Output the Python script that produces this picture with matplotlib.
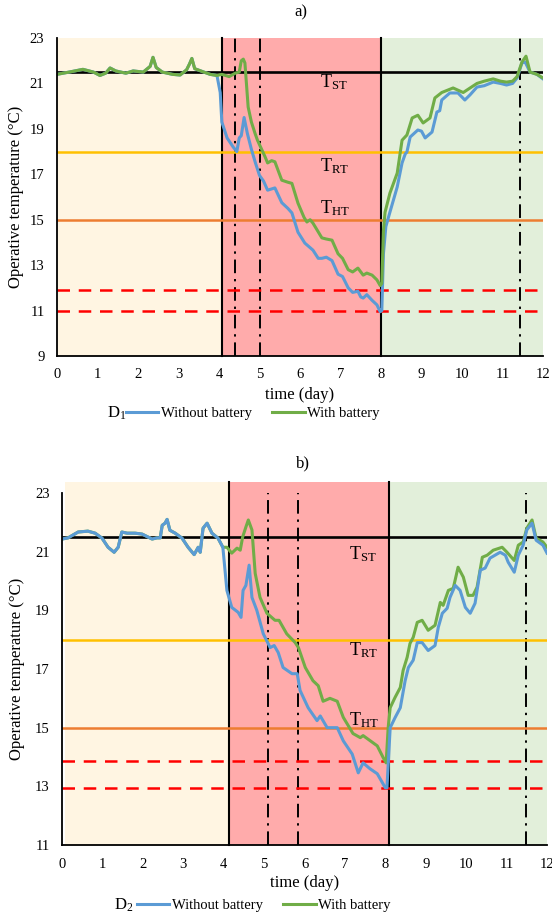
import matplotlib
matplotlib.use("Agg")
import matplotlib.pyplot as plt

plt.rcParams['font.family'] = ['Liberation Serif', 'DejaVu Serif']
plt.rcParams['mathtext.fontset'] = 'stix'

# ---- thresholds (degC) ----
T_ST = 21.5
T_RT = 18.0
T_HT = 15.0
limits_a = [11.9, 11.0]
limits_b = [13.85, 12.95]

# ---- panel a) D1 ----
a_pre_day = [0, 0.3, 0.64, 0.9, 1.06, 1.2, 1.31, 1.45, 1.7, 1.88, 2.13, 2.3, 2.37, 2.45,
             2.6, 2.85, 3.04, 3.2, 3.27, 3.33, 3.4, 3.55, 3.78, 3.95]
a_pre_temp = [21.4, 21.5, 21.62, 21.5, 21.35, 21.45, 21.68, 21.55, 21.45, 21.55, 21.5, 21.75,
              22.15, 21.7, 21.5, 21.4, 21.37, 21.6, 21.85, 22.1, 21.65, 21.55, 21.4, 21.35]

a_nobat_day = [4.03, 4.07, 4.2, 4.35, 4.44, 4.5, 4.55, 4.62, 4.7, 4.8, 4.9, 5.0, 5.1, 5.2,
               5.38, 5.55, 5.7, 5.8, 5.95, 6.12, 6.32, 6.45, 6.54, 6.65, 6.79, 6.94, 7.05,
               7.19, 7.3, 7.43, 7.5, 7.56, 7.65, 7.78, 7.9, 7.98, 8.02, 8.06, 8.12, 8.22,
               8.4, 8.52, 8.6, 8.64, 8.72, 8.91, 9.0, 9.09, 9.26, 9.38, 9.45, 9.5, 9.7, 9.9,
               10.07, 10.2, 10.37, 10.55, 10.77, 10.95, 11.1, 11.25, 11.36, 11.48, 11.56,
               11.68, 11.85, 12.0]
a_nobat_temp = [20.6, 19.3, 18.6, 18.2, 18.0, 18.6, 18.7, 19.5, 18.8, 18.1, 17.5, 16.95,
                16.7, 16.3, 16.4, 15.75, 15.5, 15.3, 14.45, 13.97, 13.66, 13.3, 13.3, 13.35,
                13.2, 12.6, 12.5, 12.0, 11.8, 11.85, 11.6, 11.55, 11.7, 11.45, 11.25, 10.95,
                11.0, 13.5, 14.7, 15.33, 16.44, 17.5, 17.9, 17.98, 18.64, 18.95, 18.9, 18.6,
                18.86, 19.74, 19.8, 20.27, 20.58, 20.58, 20.27, 20.5, 20.84, 20.9, 21.06,
                21.0, 20.93, 21.0, 21.24, 21.9, 21.94, 21.5, 21.4, 21.2]

a_bat_day = [4.07, 4.25, 4.4, 4.5, 4.55, 4.6, 4.64, 4.72, 4.8, 4.89, 4.95, 5.06, 5.13, 5.2,
             5.3, 5.38, 5.55, 5.7, 5.8, 5.95, 6.1, 6.17, 6.25, 6.32, 6.54, 6.65, 6.79, 6.94,
             7.05, 7.19, 7.3, 7.43, 7.56, 7.65, 7.78, 7.9, 7.98, 8.02, 8.06, 8.1, 8.22, 8.4,
             8.52, 8.64, 8.77, 8.91, 9.04, 9.21, 9.33, 9.5, 9.78, 10.03, 10.2, 10.37, 10.55,
             10.77, 10.95, 11.1, 11.25, 11.36, 11.48, 11.58, 11.68, 11.85, 12.0]
a_bat_temp = [21.4, 21.3, 21.45, 21.5, 22.0, 22.07, 21.9, 19.96, 19.3, 18.8, 18.5, 18.07,
              17.8, 17.5, 17.6, 17.55, 16.74, 16.65, 16.6, 15.73, 15.1, 14.9, 15.0, 14.85,
              14.2, 14.15, 14.1, 13.5, 13.3, 12.8, 12.7, 12.87, 12.56, 12.65, 12.56, 12.35,
              12.1, 12.2, 14.5, 15.33, 16.17, 17.05, 18.5, 18.73, 19.48, 19.6, 19.26, 19.48,
              20.36, 20.6, 20.8, 20.6, 20.8, 21.0, 21.1, 21.2, 21.1, 21.06, 21.1, 21.3,
              21.94, 22.2, 21.5, 21.4, 21.24]

# ---- panel b) D2 ----
b_pre_day = [0, 0.15, 0.4, 0.64, 0.82, 0.99, 1.14, 1.29, 1.39, 1.48, 1.61, 1.81, 1.98, 2.23,
             2.35, 2.43, 2.48, 2.55, 2.6, 2.67, 2.8, 2.97, 3.12, 3.27, 3.37, 3.42, 3.49,
             3.59, 3.71, 3.86, 3.98]
b_pre_temp = [21.43, 21.47, 21.67, 21.7, 21.63, 21.46, 21.15, 20.98, 21.15, 21.67, 21.63,
              21.63, 21.6, 21.43, 21.47, 21.47, 21.9, 21.97, 22.1, 21.73, 21.63, 21.46,
              21.15, 20.9, 21.15, 20.98, 21.8, 21.97, 21.63, 21.46, 21.15]

b_nobat_day = [4.08, 4.2, 4.36, 4.43, 4.48, 4.55, 4.63, 4.7, 4.82, 4.98, 5.15, 5.25, 5.35,
               5.47, 5.69, 5.82, 5.89, 6.09, 6.31, 6.39, 6.56, 6.81, 6.96, 7.18, 7.33, 7.45,
               7.62, 7.8, 8.0, 8.04, 8.12, 8.24, 8.37, 8.49, 8.57, 8.69, 8.79, 8.91, 9.06,
               9.23, 9.31, 9.41, 9.53, 9.6, 9.73, 9.85, 9.98, 10.1, 10.22, 10.35, 10.47,
               10.59, 10.84, 10.97, 11.04, 11.19, 11.29, 11.41, 11.5, 11.63, 11.73, 11.9, 12.0]
b_nobat_temp = [19.68, 19.1, 18.93, 18.76, 19.68, 19.85, 20.54, 19.44, 19.0, 18.2, 17.73,
                17.8, 17.56, 17.05, 16.84, 16.84, 16.27, 15.68, 15.24, 15.4, 15.0, 15.0,
                14.55, 14.1, 13.46, 13.8, 13.6, 13.43, 12.95, 12.95, 15.0, 15.34, 15.68,
                16.6, 17.05, 17.3, 17.9, 17.9, 17.63, 17.8, 18.42, 18.9, 19.07, 19.44, 19.85,
                19.68, 19.1, 18.9, 19.24, 20.37, 20.44, 20.78, 20.98, 20.88, 20.64, 20.3,
                20.88, 21.22, 21.74, 21.97, 21.39, 21.22, 20.95]

b_bat_day = [4.08, 4.2, 4.33, 4.41, 4.47, 4.55, 4.61, 4.7, 4.78, 4.9, 5.07, 5.27, 5.37, 5.56,
             5.77, 5.85, 6.02, 6.21, 6.34, 6.46, 6.63, 6.81, 6.96, 7.2, 7.38, 7.45, 7.62,
             7.8, 7.95, 8.02, 8.07, 8.12, 8.24, 8.37, 8.44, 8.54, 8.61, 8.69, 8.79, 8.91,
             9.06, 9.23, 9.36, 9.43, 9.56, 9.68, 9.8, 9.93, 10.05, 10.17, 10.27, 10.4, 10.52,
             10.67, 10.89, 11.01, 11.19, 11.29, 11.41, 11.5, 11.63, 11.73, 11.9, 12.0]
b_bat_temp = [21.15, 20.95, 21.12, 21.05, 21.5, 21.84, 22.08, 21.74, 20.26, 19.44, 18.9,
              18.66, 18.66, 18.2, 17.9, 17.73, 17.05, 16.6, 16.43, 15.9, 16.0, 15.9, 15.35,
              14.8, 14.66, 14.73, 14.56, 14.38, 13.97, 13.8, 15.0, 15.68, 16.03, 16.37,
              16.95, 17.4, 17.87, 18.08, 18.59, 18.66, 18.32, 18.49, 19.27, 19.17, 19.68,
              19.75, 20.47, 20.13, 19.51, 19.51, 19.79, 20.81, 20.88, 21.05, 21.15, 20.98,
              20.7, 21.22, 21.33, 21.8, 22.08, 21.46, 21.33, 21.15]

# phase boundaries and event markers (day)
a_phases = [0, 4.07, 8.0, 12]
b_phases = [0.07, 4.14, 8.1, 12]
a_events = [4.4, 5.0, 11.43]
b_events = [5.1, 5.83, 11.48]

BLUE = '#5B9BD5'
GREEN = '#70AD47'
PHASE_COLORS = ['#FFF5E2', '#FFABAB', '#E2EFDA']

fig = plt.figure(figsize=(5.52, 9.18), dpi=100)
ax_a = fig.add_axes([57 / 552, 1 - 356 / 918, 486 / 552, 318 / 918])
ax_b = fig.add_axes([62 / 552, 1 - 845 / 918, 485 / 552, 352 / 918])


def draw_panel(ax, pre_day, pre_temp, nb_day, nb_temp, wb_day, wb_temp,
               phases, events, limits, ylo, label_x, label_y, blue_on_top, overshoot,
               ylab_x, xlab_y):
    for i, c in enumerate(PHASE_COLORS):
        span = ax.axvspan(phases[i], phases[i + 1], ymin=0, ymax=1 + overshoot,
                          color=c, lw=0, zorder=0)
        span.set_clip_on(False)
    for x in phases[1:3]:
        ax.axvline(x, ymin=0, ymax=1 + overshoot, color='black', lw=1.5,
                   zorder=2, clip_on=False)
    for x in events:
        ax.axvline(x, color='black', lw=1.4, ls=(0, (7, 3, 1.2, 3)), zorder=2)

    ax.axhline(T_ST, color='black', lw=1.9, zorder=3)
    ax.axhline(T_RT, color='#FFC000', lw=1.8, zorder=3)
    ax.axhline(T_HT, color='#ED7D31', lw=1.8, zorder=3)
    for y in limits:
        ax.axhline(y, color='#FF0000', lw=1.8, ls=(0, (5, 3.5)), zorder=3)

    z_blue, z_green = (5, 4) if blue_on_top else (4, 5)
    ax.plot(pre_day + nb_day, pre_temp + nb_temp, color=BLUE, lw=2.2,
            zorder=z_blue, label='Without battery')
    ax.plot(pre_day + wb_day, pre_temp + wb_temp, color=GREEN, lw=2.2,
            zorder=z_green, label='With battery')

    for txt, y in zip(['ST', 'RT', 'HT'], label_y):
        ax.text(label_x, y, r'T$_{\mathregular{%s}}$' % txt, fontsize=13,
                ha='left', va='center', zorder=6)

    ax.set_xlim(0, 12)
    ax.set_ylim(ylo, 23)
    ax.set_xticks(range(0, 13))
    ax.set_yticks(range(ylo, 24, 2))
    for s in ['top', 'right']:
        ax.spines[s].set_visible(False)
    for s in ['left', 'bottom']:
        ax.spines[s].set_linewidth(1.3)
        ax.spines[s].set_zorder(6)
    ax.tick_params(length=0, labelsize=10.5)
    ax.tick_params(axis='x', pad=9)
    ax.tick_params(axis='y', pad=9)
    ax.set_xlabel('time (day)', fontsize=12)
    ax.set_ylabel('Operative temperature (\u00b0C)', fontsize=12)
    ax.xaxis.set_label_coords(0.5, xlab_y)
    ax.yaxis.set_label_coords(ylab_x, 0.5)


draw_panel(ax_a, a_pre_day, a_pre_temp, a_nobat_day, a_nobat_temp, a_bat_day, a_bat_temp,
           a_phases, a_events, limits_a, 9, 6.5, [21.05, 17.35, 15.5], False, 0.0,
           -0.068, -0.098)
draw_panel(ax_b, b_pre_day, b_pre_temp, b_nobat_day, b_nobat_temp, b_bat_day, b_bat_temp,
           b_phases, b_events, limits_b, 11, 7.1, [20.9, 17.65, 15.25], True, 0.03,
           -0.076, -0.085)

fig.text(0.545, 1 - 12 / 918, 'a)', fontsize=12, ha='center', va='center')
fig.text(0.548, 1 - 463 / 918, 'b)', fontsize=12, ha='center', va='center')

for ax, name, ytxt, xtxt, xleg in [(ax_a, r'D$_{\mathregular{1}}$', 413, 117, 253),
                                    (ax_b, r'D$_{\mathregular{2}}$', 905, 124, 264)]:
    fig.text(xtxt / 552, 1 - ytxt / 918, name, fontsize=12, ha='center', va='center')
    h, l = ax.get_legend_handles_labels()
    fig.legend(h, l, loc='center', ncol=2, frameon=False, fontsize=10.5,
               bbox_to_anchor=(xleg / 552, 1 - ytxt / 918),
               handlelength=2.2, handletextpad=0.2, columnspacing=1.4,
               borderpad=0, borderaxespad=0)

fig.savefig('out.png', dpi=100)
